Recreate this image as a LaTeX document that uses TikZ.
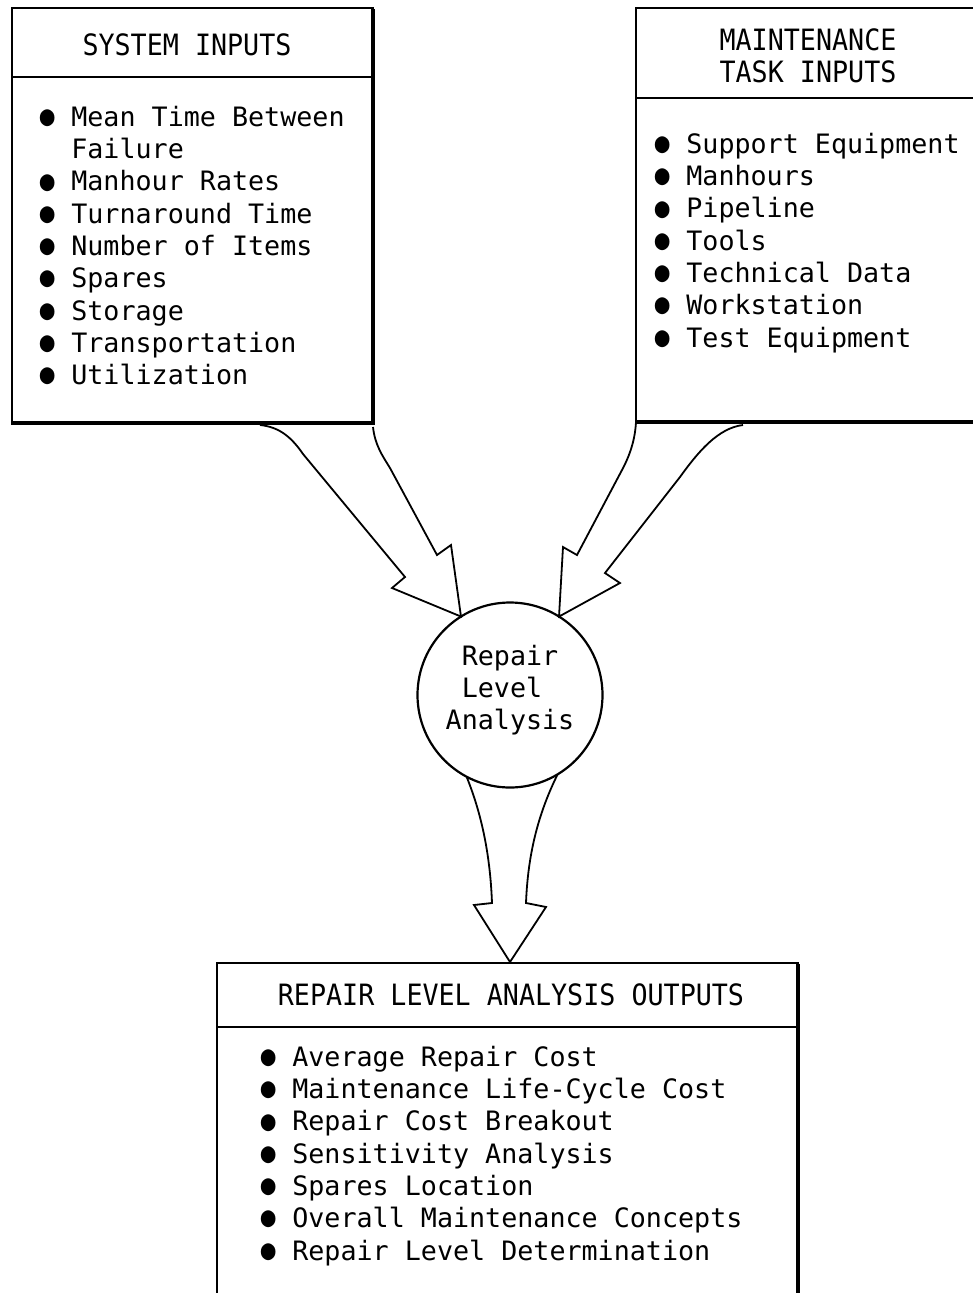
\documentclass[tikz,border=0pt]{standalone}
\usepackage{fontspec}
\setmainfont{DejaVu Sans Mono}
\tikzset{
  box/.style={line width=1.6pt},
  shadowline/.style={line width=4.5pt},
  bigarrow/.style={line width=1.8pt, line join=miter},
  head/.style={font=\fontsize{26.7}{32.3}\selectfont, inner sep=0pt, anchor=base},
  items/.style={font=\fontsize{26.7}{32.3}\selectfont, inner sep=0pt, align=left, anchor=north west},
  hub/.style={circle, draw, line width=2.2pt, minimum size=185pt, inner sep=0pt, outer sep=0pt}
}
\newcommand{\bul}{\makebox[0.602em]{\raisebox{0.03em}{\scalebox{0.92}[1.05]{●}}}\ }
\newcommand{\indt}{\hphantom{\bul}}
\newcommand{\tall}[1]{\scalebox{1}[1.1]{#1}}
\begin{document}
\begin{tikzpicture}[x=1pt,y=-1pt]
  \useasboundingbox (0,0) rectangle (973,1293);
  % system inputs
  \draw[box] (12,8) rectangle (373,423);
  \draw[box] (12,77) -- (373,77);
  \draw[shadowline] (373,9) -- (373,423) -- (11,423);
  \node[head] (syshead) at (187,55) {\tall{SYSTEM INPUTS}};
  \node[items] (syslist) at (39,103.4) {\strut\bul Mean Time Between\\
    \indt Failure\\
    \bul Manhour Rates\\
    \bul Turnaround Time\\
    \bul Number of Items\\
    \bul Spares\\
    \bul Storage\\
    \bul Transportation\\
    \bul Utilization};
  % maintenance task inputs
  \draw[box] (636,8) rectangle (990,422);
  \draw[box] (636,98) -- (990,98);
  \draw[shadowline] (636,422) -- (990,422);
  \node[head, align=center, anchor=north] (taskhead) at (808,27.4) {\strut\tall{MAINTENANCE}\\\tall{TASK INPUTS}};
  \node[items] (tasklist) at (654,130.4) {\strut\bul Support Equipment\\
    \bul Manhours\\
    \bul Pipeline\\
    \bul Tools\\
    \bul Technical Data\\
    \bul Workstation\\
    \bul Test Equipment};
  % outputs
  \draw[box] (217,963) rectangle (798,1310);
  \draw[box] (217,1027) -- (798,1027);
  \draw[shadowline] (798,964) -- (798,1310);
  \node[head] (outhead) at (511,1005) {\tall{REPAIR LEVEL ANALYSIS OUTPUTS}};
  \node[items] (outlist) at (260,1043.4) {\strut\bul Average Repair Cost\\
    \bul Maintenance Life-Cycle Cost\\
    \bul Repair Cost Breakout\\
    \bul Sensitivity Analysis\\
    \bul Spares Location\\
    \bul Overall Maintenance Concepts\\
    \bul Repair Level Determination};
  \coordinate (outtip) at (510,962);
  % analysis circle
  \node[hub] (rla) at (510,695) {};
  \node[items, anchor=north] (rlatext) at ([yshift=52.6pt]rla.center) {\strut\hphantom{A}Repair\\
    \hphantom{A}Level\\
    Analysis};
  % input arrows
  \draw[bigarrow] (260,425) .. controls (280,427) and (292,438) .. (303,454)
    -- (405,577) -- (392,588) -- (rla.122.7) -- (451,545) -- (437,555)
    -- (390,468) .. controls (382,455) and (375,445) .. (373,427);
  \draw[bigarrow] (743,425) .. controls (718,428) and (698,452) .. (680,477)
    -- (605,573) -- (620,583) -- (rla.58.9) -- (563,547) -- (577,555)
    -- (622,470) .. controls (630,455) and (635,440) .. (636,422);
  % output arrow
  \draw[bigarrow] (rla.242.3) .. controls (480,810) and (490,850) .. (492,903)
    -- (474,905) -- (outtip) -- (546,907) -- (526,903)
    .. controls (528,850) and (540,810) .. (rla.301);
\end{tikzpicture}
\end{document}
